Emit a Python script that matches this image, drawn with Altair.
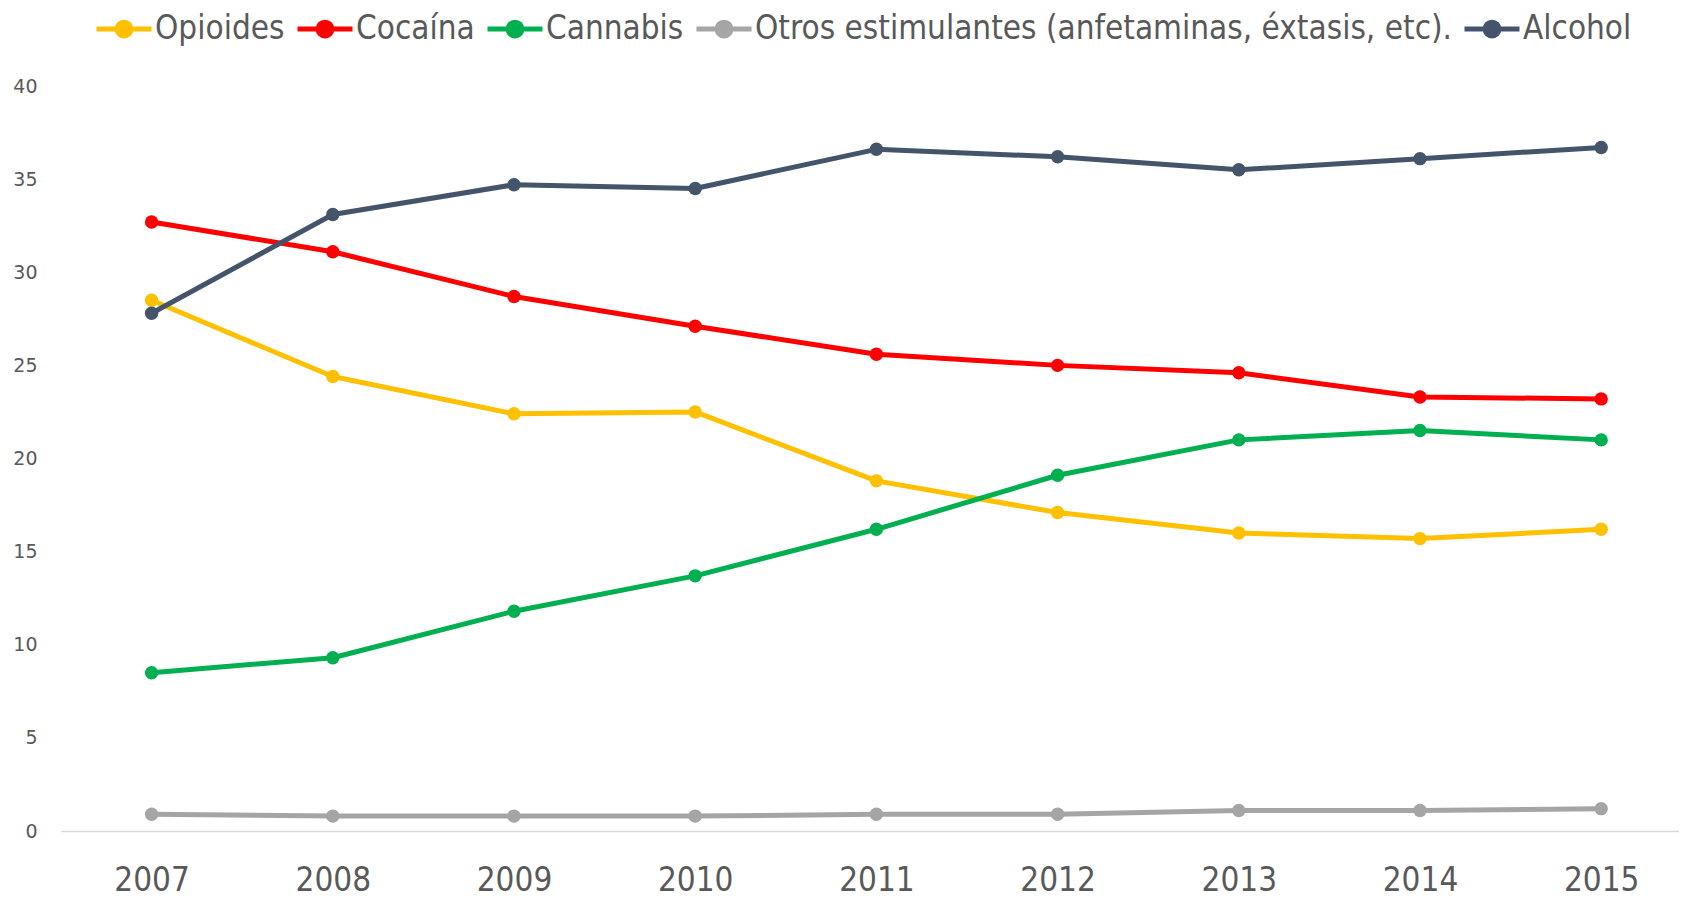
import altair as alt
import pandas as pd

years = [2007, 2008, 2009, 2010, 2011, 2012, 2013, 2014, 2015]
series_names = [
    "Opioides",
    "Cocaína",
    "Cannabis",
    "Otros estimulantes (anfetaminas, éxtasis, etc).",
    "Alcohol",
]
opioides = [28.5, 24.4, 22.4, 22.5, 18.8, 17.1, 16.0, 15.7, 16.2]
cocaina = [32.7, 31.1, 28.7, 27.1, 25.6, 25.0, 24.6, 23.3, 23.2]
cannabis = [8.5, 9.3, 11.8, 13.7, 16.2, 19.1, 21.0, 21.5, 21.0]
otros = [0.9, 0.8, 0.8, 0.8, 0.9, 0.9, 1.1, 1.1, 1.2]
alcohol = [27.8, 33.1, 34.7, 34.5, 36.6, 36.2, 35.5, 36.1, 36.7]
colors = ["#FFC000", "#FF0000", "#00B050", "#A5A5A5", "#44546A"]
y_ticks = [0, 5, 10, 15, 20, 25, 30, 35, 40]

rows = []
for k, (name, vals) in enumerate(zip(series_names, [opioides, cocaina, cannabis, otros, alcohol])):
    for yr, v in zip(years, vals):
        rows.append({"Año": yr, "Valor": v, "Serie": name, "k": k})
df = pd.DataFrame(rows)

FONT = "Liberation Sans Narrow, DejaVu Sans Condensed, sans-serif"
SYMBOL = "M-1,0L1,0M-0.25,0A0.25,0.25,0,1,1,0.25,0A0.25,0.25,0,1,1,-0.25,0Z"

legend = alt.Legend(
    orient="none",
    legendX=33,
    legendY=-87,
    direction="horizontal",
    title=None,
    labelFont=FONT,
    labelFontSize=33,
    labelColor="#595959",
    labelLimit=2000,
    labelOffset=1,
    columnPadding=2,
    symbolType=SYMBOL,
    symbolSize=3025,
    symbolStrokeWidth=5,
    symbolOpacity=1,
)

scale = alt.Scale(domain=series_names, range=colors)

base = alt.Chart(df).encode(
    x=alt.X(
        "Año:Q",
        scale=alt.Scale(domain=[2006.5, 2006.5 + 1618 / 181.2], nice=False, zero=False),
        axis=alt.Axis(
            values=years,
            format="d",
            title=None,
            grid=False,
            ticks=False,
            tickSize=0,
            labelFont=FONT,
            labelFontSize=33,
            labelColor="#595959",
            labelPadding=33,
            domainColor="#D9D9D9",
            domainWidth=1.5,
        ),
    ),
    y=alt.Y(
        "Valor:Q",
        scale=alt.Scale(domain=[0, 40], nice=False),
        axis=alt.Axis(
            values=y_ticks,
            title=None,
            grid=False,
            ticks=False,
            domain=False,
            labelFont="DejaVu Sans",
            labelFontSize=19,
            labelColor="#595959",
            labelPadding=24,
        ),
    ),
)

lines = base.mark_line(strokeWidth=5, strokeCap="round", strokeJoin="round").encode(
    stroke=alt.Stroke("Serie:N", sort=series_names, scale=scale, legend=legend)
)
points = base.mark_circle(size=180, opacity=1).encode(
    fill=alt.Fill("Serie:N", sort=series_names, scale=scale, legend=legend)
)

chart = (
    alt.layer(lines, points)
    .properties(
        width=1618,
        height=745,
        padding={"left": 53, "top": 78, "right": 0, "bottom": 75},
        autosize=alt.AutoSizeParams(type="none"),
    )
    .configure_view(stroke=None)
)

chart.save("out.html", embed_options={"renderer": "svg", "actions": False})
